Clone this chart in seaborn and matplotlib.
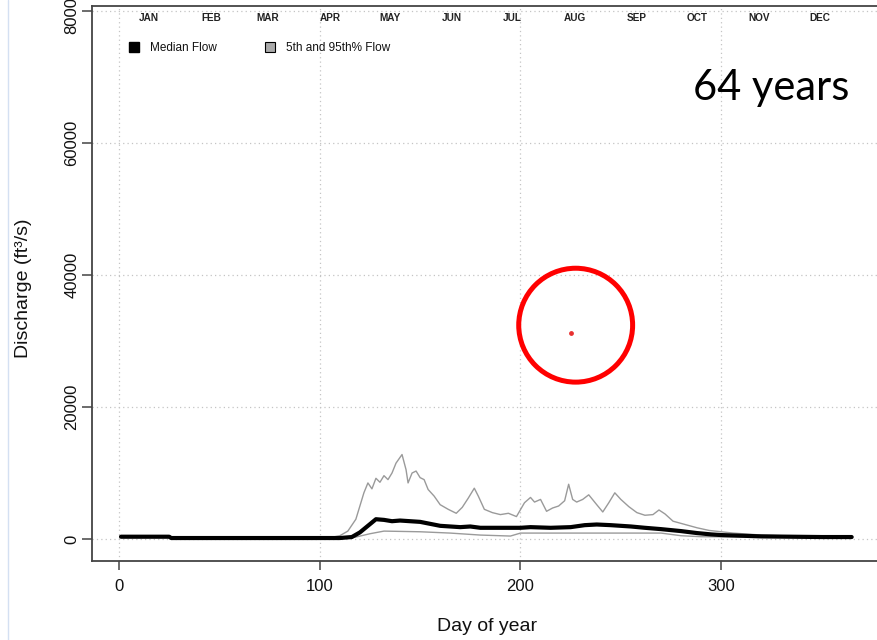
import matplotlib
matplotlib.use("Agg")
import matplotlib.pyplot as plt
from matplotlib.lines import Line2D
import seaborn as sns
import pandas as pd

# ---------------- data ----------------
median_day = [1, 25, 26, 110, 116, 120, 124, 128, 132, 136, 140, 145, 150, 155, 160,
              165, 170, 175, 180, 190, 200, 205, 215, 225, 232, 238, 245, 255, 262,
              270, 280, 288, 295, 300, 310, 320, 335, 350, 365]
median_flow = [350, 350, 150, 150, 300, 1000, 2000, 3000, 2900, 2700, 2800, 2700, 2600,
               2300, 2000, 1900, 1800, 1900, 1700, 1700, 1700, 1800, 1700, 1800, 2100,
               2200, 2100, 1900, 1700, 1500, 1200, 900, 700, 600, 500, 400, 350, 300, 300]

p5_day = [1, 25, 26, 110, 118, 125, 132, 150, 165, 180, 195, 200, 270, 280, 290, 320, 365]
p5_flow = [250, 250, 100, 100, 300, 800, 1200, 1100, 900, 600, 450, 900, 900, 500, 350, 300, 250]

p95_day = [1, 25, 26, 105, 110, 114, 118, 122, 124, 126, 128, 130, 132, 134, 136, 138,
           141, 143, 144, 146, 148, 150, 152, 154, 157, 160, 164, 168, 171, 174, 177,
           179, 182, 186, 190, 194, 198, 202, 205, 207, 210, 213, 216, 219, 222, 224,
           226, 228, 231, 234, 238, 241, 244, 247, 250, 254, 258, 262, 266, 269, 272,
           276, 282, 288, 294, 300, 306, 313, 320, 330, 345, 365]
p95_flow = [500, 500, 200, 200, 500, 1200, 3000, 7000, 8500, 7600, 9200, 8600, 9600,
            9000, 10000, 11500, 12800, 10500, 8500, 10000, 10300, 9300, 9000, 7500,
            6500, 5200, 4500, 3900, 4800, 6200, 7700, 6500, 4500, 4000, 3700, 3900,
            3400, 5500, 6300, 5600, 6000, 4200, 4700, 5000, 5800, 8300, 6000, 5600,
            6000, 6700, 5200, 4100, 5500, 7000, 6000, 4900, 4000, 3600, 3700, 4400,
            3800, 2700, 2200, 1700, 1300, 1100, 900, 750, 600, 500, 450, 400]

highlight_day = [225]
highlight_flow = [31200]

month_labels = ["JAN", "FEB", "MAR", "APR", "MAY", "JUN",
                "JUL", "AUG", "SEP", "OCT", "NOV", "DEC"]
month_mid_day = [15, 46, 74, 105, 135, 166, 196, 227, 258, 288, 319, 349]

x_ticks = [0, 100, 200, 300]
y_ticks = [0, 20000, 40000, 60000, 80000]

# ---------------- style ----------------
sns.set_theme(style="ticks")
plt.rcParams["font.family"] = ["Liberation Sans", "DejaVu Sans"]

W, H = 877, 640
fig = plt.figure(figsize=(W / 100, H / 100), dpi=100)
ax_left, ax_right, ax_top, ax_bottom = 91.7, 883.0, 6.0, 561.0
ax = fig.add_axes([ax_left / W, 1 - ax_bottom / H,
                   (ax_right - ax_left) / W, (ax_bottom - ax_top) / H])

ax.set_xlim(-13.6, 380.6)
ax.set_ylim(-3330, 80760)

ax.set_xticks(x_ticks)
ax.set_yticks(y_ticks)
ax.grid(True, linestyle=(0, (1, 2.5)), color="#c4c4c4", linewidth=0.9)

sns.lineplot(x=p95_day, y=p95_flow, ax=ax, color="#9a9a9a", linewidth=1.0,
             estimator=None, sort=False)
sns.lineplot(x=p5_day, y=p5_flow, ax=ax, color="#9a9a9a", linewidth=1.0,
             estimator=None, sort=False)
sns.lineplot(x=median_day, y=median_flow, ax=ax, color="black", linewidth=3.0,
             estimator=None, sort=False)

ax.scatter(highlight_day, highlight_flow, s=6, color="#e83030", zorder=5)
# red highlight circle around the point
ax.scatter([227.5], [32400], s=(82) ** 2, facecolors="none", edgecolors="#ff0000",
           linewidths=3.6, zorder=6, clip_on=False)

for lab, d in zip(month_labels, month_mid_day):
    ax.text(d, 79000, lab, ha="center", va="center", fontsize=7.2,
            fontweight="bold", color="#222222")

handles = [
    Line2D([], [], marker="s", linestyle="None", markersize=7,
           markerfacecolor="black", markeredgecolor="black"),
    Line2D([], [], marker="s", linestyle="None", markersize=7,
           markerfacecolor="#aaaaaa", markeredgecolor="black", markeredgewidth=0.8),
]
leg = ax.legend(handles, ["Median Flow", "5th and 95th% Flow"], ncol=2,
                loc="center left",
                bbox_to_anchor=((129 - ax_left) / (ax_right - ax_left),
                                1 - (48 - ax_top) / (ax_bottom - ax_top)),
                frameon=False, fontsize=8.5, handlelength=0.9, handletextpad=0.9,
                columnspacing=4.0, borderpad=0, borderaxespad=0)
for t in leg.get_texts():
    t.set_color("#111111")

for side in ["left", "bottom", "top", "right"]:
    ax.spines[side].set_color("#444444")
    ax.spines[side].set_linewidth(1.3)

ax.tick_params(axis="y", length=7.2, width=1.1, color="#444444", pad=1.5,
               labelsize=12, labelrotation=90, labelcolor="#111111")
ax.tick_params(axis="x", length=6.8, width=1.1, color="#444444", pad=6.5,
               labelsize=12, labelcolor="#111111")
for lab in ax.get_yticklabels():
    lab.set_va("center")

ax.set_xlabel("Day of year", fontsize=14, color="#111111")
ax.set_ylabel("Discharge (ft\u00b3/s)", fontsize=14, color="#111111")
ax.xaxis.set_label_coords(0.5, -(618 - ax_bottom) / (ax_bottom - ax_top))
ax.yaxis.set_label_coords((32 - ax_left) / (ax_right - ax_left),
                          1 - (288 - ax_top) / (ax_bottom - ax_top))

fig.text(771 / W, 1 - 88 / H, "64 years", fontsize=30, family="Lato",
         ha="center", va="center", color="black")

fig.add_artist(Line2D([8 / W, 8 / W], [0, 1], transform=fig.transFigure,
                      color="#d4e0f2", linewidth=1.0))

fig.savefig("out.png", dpi=100)
